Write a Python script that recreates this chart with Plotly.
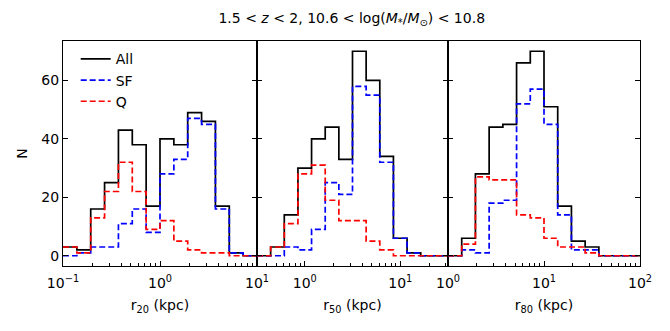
import numpy as np
import plotly.graph_objects as go

# Histogram data (counts per log bin)
log_lo = [-1.0, -0.5, 0.0]          # log10 lower edge of each panel's bins/range
nbins = 14
all_r20 = [3, 2, 16, 25, 43, 38, 17, 40, 38, 49, 46, 17, 1, 0]
sf_r20  = [0, 1, 3, 3, 11, 16, 8, 28, 33, 47, 45, 16, 1, 0]
q_r20   = [3, 1, 13, 22, 32, 22, 9, 12, 5, 2, 1, 1, 0, 0]

all_r50 = [0, 3, 14, 30, 40, 44, 33, 70, 60, 34, 6, 1, 0, 0]
sf_r50  = [0, 0, 3, 2, 9, 25, 21, 58, 55, 32, 6, 1, 0, 0]
q_r50   = [0, 3, 11, 28, 31, 19, 12, 12, 5, 2, 0, 0, 0, 0]

all_r80 = [0, 6, 28, 44, 45, 66, 70, 51, 17, 5, 3, 0, 0, 0]
sf_r80  = [0, 2, 1, 18, 19, 52, 57, 45, 14, 2, 2, 0, 0, 0]
q_r80   = [0, 4, 27, 26, 26, 14, 13, 6, 3, 3, 1, 0, 0, 0]

x_titles = ["r<sub>20</sub> (kpc)", "r<sub>50</sub> (kpc)", "r<sub>80</sub> (kpc)"]
major_ticks = [[0.1, 1, 10], [1, 10], [1, 10, 100]]
major_text = [["10<sup>−1</sup>", "10<sup>0</sup>", "10<sup>1</sup>"],
              ["10<sup>0</sup>", "10<sup>1</sup>"],
              ["10<sup>0</sup>", "10<sup>1</sup>", "10<sup>2</sup>"]]
y_ticks = [0, 20, 40, 60]

panels = [(all_r20, sf_r20, q_r20), (all_r50, sf_r50, q_r50), (all_r80, sf_r80, q_r80)]
series_names = ["All", "SF", "Q"]
series_colors = ["black", "blue", "red"]
series_dash = ["solid", "6px,3px", "6px,3px"]

FONT = "DejaVu Sans"
FS = 14
fig = go.Figure()

W = 577.0
bounds = [0, 194 / W, 385 / W, 1.0]

for i, (a_cnt, s_cnt, q_cnt) in enumerate(panels):
    edges = np.logspace(log_lo[i], log_lo[i] + 2, nbins + 1)
    xa = "x" if i == 0 else f"x{i+1}"
    ya = "y" if i == 0 else f"y{i+1}"
    for j, cnt in enumerate([a_cnt, s_cnt, q_cnt]):
        yv = list(cnt) + [cnt[-1]]
        fig.add_trace(go.Scatter(
            x=edges, y=yv, mode="lines", line_shape="hv",
            line=dict(color=series_colors[j], width=1.7, dash=series_dash[j]),
            name=series_names[j], showlegend=(i == 0),
            xaxis=xa, yaxis=ya, hoverinfo="skip"))

    minor_vals = []
    for d in range(-2, 3):
        for m in range(2, 10):
            v = m * 10.0 ** d
            if 10 ** log_lo[i] < v < 10 ** (log_lo[i] + 2):
                minor_vals.append(v)

    xkey = "xaxis" if i == 0 else f"xaxis{i+1}"
    ykey = "yaxis" if i == 0 else f"yaxis{i+1}"
    fig.update_layout(**{
        xkey: dict(
            type="log", range=[log_lo[i], log_lo[i] + 2],
            domain=[bounds[i], bounds[i + 1]], anchor=ya,
            showline=True, linecolor="black", linewidth=1.2, mirror=True,
            ticks="inside", ticklen=5, tickwidth=1, tickcolor="black",
            tickvals=major_ticks[i], ticktext=major_text[i],
            ticklabelstandoff=4,
            minor=dict(tickvals=minor_vals, ticks="inside", ticklen=3,
                       tickwidth=0.8, tickcolor="black", showgrid=False),
            showgrid=False, zeroline=False,
            tickfont=dict(family=FONT, size=FS, color="black"),
            title=dict(text=x_titles[i], font=dict(family=FONT, size=FS, color="black"),
                       standoff=10),
        ),
        ykey: dict(
            range=[-3.5, 73.5], anchor=xa,
            showline=True, linecolor="black", linewidth=1.2, mirror="allticks",
            ticks="inside", ticklen=5, tickwidth=1, tickcolor="black",
            tickvals=y_ticks, showticklabels=(i == 0),
            showgrid=False, zeroline=False,
            tickfont=dict(family=FONT, size=FS, color="black"),
            title=dict(text="N" if i == 0 else "", font=dict(family=FONT, size=FS, color="black"),
                       standoff=10),
        ),
    })

fig.update_layout(
    width=670, height=331,
    margin=dict(l=63, r=30, t=41, b=65),
    paper_bgcolor="white", plot_bgcolor="white",
    title=dict(
        text="1.5 &lt; <i>z</i> &lt; 2, 10.6 &lt; log(<i>M</i><sub>*</sub>/<i>M</i><sub>⊙</sub>) &lt; 10.8",
        x=0.525, xanchor="center", y=0.945, yanchor="middle",
        font=dict(family=FONT, size=FS, color="black")),
    legend=dict(x=0.022, y=0.99, xanchor="left", yanchor="top",
                bgcolor="rgba(255,255,255,0)", borderwidth=0,
                font=dict(family=FONT, size=FS, color="black"),
                itemwidth=30, tracegroupgap=0),
    showlegend=True,
)

fig.write_html("out.html")
